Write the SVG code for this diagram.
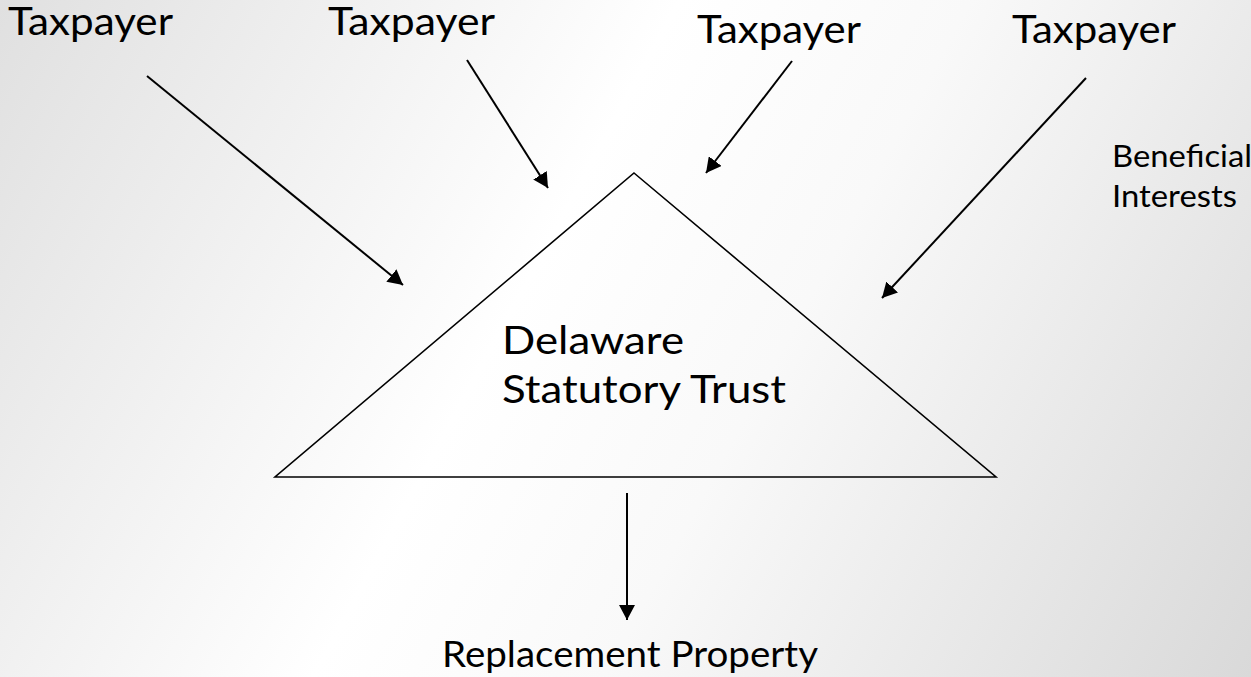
<svg xmlns="http://www.w3.org/2000/svg" width="1251" height="677" viewBox="0 0 1251 677">
  <defs>
    <linearGradient id="bg" gradientUnits="userSpaceOnUse" x1="0" y1="0" x2="1251" y2="677">
      <stop offset="0" stop-color="#e0e0e0"/>
      <stop offset="0.42" stop-color="#ffffff"/>
      <stop offset="0.6" stop-color="#f9f9f9"/>
      <stop offset="1" stop-color="#d9d9d9"/>
    </linearGradient>
    <marker id="arrow" markerUnits="userSpaceOnUse" markerWidth="16" markerHeight="16" refX="15" refY="8" orient="auto">
      <path d="M0,0 L15,8 L0,16 Z" fill="#000"/>
    </marker>
    <style>
      .lbl { font-family: Lato, "Open Sans", "Liberation Sans", sans-serif; fill: #000; }
      .big { font-size: 38px; }
      .mid { font-size: 36px; }
      .small { font-size: 31px; }
      .edge { stroke: #000; stroke-width: 2; fill: none; marker-end: url(#arrow); }
      .tri { stroke: #000; stroke-width: 1.6; fill: none; }
    </style>
  </defs>

  <rect x="0" y="0" width="1251" height="677" fill="url(#bg)"/>

  <!-- taxpayers -->
  <g id="taxpayer-1"><text class="lbl big" x="8" y="35" textLength="165" lengthAdjust="spacingAndGlyphs">Taxpayer</text></g>
  <g id="taxpayer-2"><text class="lbl big" x="328" y="35" textLength="167" lengthAdjust="spacingAndGlyphs">Taxpayer</text></g>
  <g id="taxpayer-3"><text class="lbl big" x="697" y="43" textLength="164" lengthAdjust="spacingAndGlyphs">Taxpayer</text></g>
  <g id="taxpayer-4"><text class="lbl big" x="1012" y="43" textLength="164" lengthAdjust="spacingAndGlyphs">Taxpayer</text></g>

  <!-- trust -->
  <g id="trust">
    <polygon class="tri" points="634,173 996,477 275,477"/>
    <text class="lbl big" x="502" y="354" textLength="182" lengthAdjust="spacingAndGlyphs">Delaware</text>
    <text class="lbl big" x="502" y="403" textLength="284" lengthAdjust="spacingAndGlyphs">Statutory Trust</text>
  </g>

  <!-- label for interests -->
  <g id="beneficial-interests">
    <text class="lbl small" x="1112" y="167" textLength="140" lengthAdjust="spacingAndGlyphs">Beneficial</text>
    <text class="lbl small" x="1112" y="207" textLength="125" lengthAdjust="spacingAndGlyphs">Interests</text>
  </g>

  <!-- output -->
  <g id="replacement-property">
    <text class="lbl mid" x="442" y="667" textLength="376" lengthAdjust="spacingAndGlyphs">Replacement Property</text>
  </g>

  <!-- connectors -->
  <g id="connectors">
    <line class="edge" x1="147" y1="76" x2="403" y2="285"/>
    <line class="edge" x1="467" y1="60" x2="548" y2="188"/>
    <line class="edge" x1="792" y1="61" x2="706" y2="173"/>
    <line class="edge" x1="1086" y1="78" x2="882" y2="298"/>
    <line class="edge" x1="627" y1="493" x2="627" y2="620"/>
  </g>
</svg>
